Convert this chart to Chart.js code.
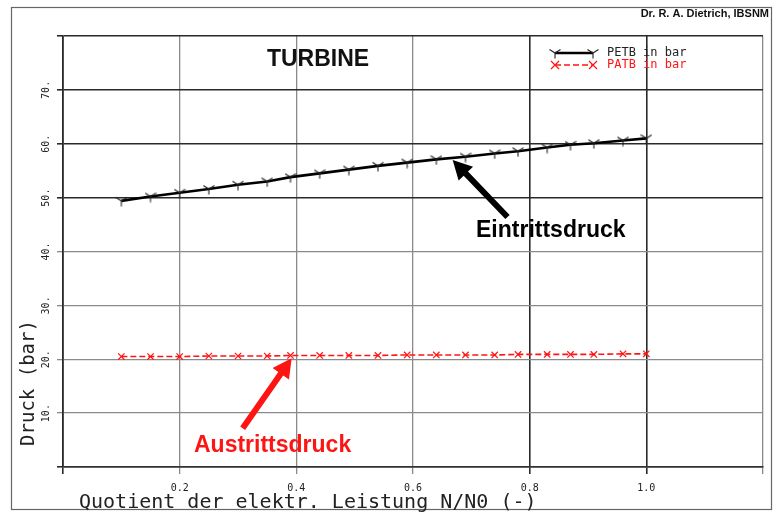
<!DOCTYPE html>
<html>
<head>
<meta charset="utf-8">
<script src="https://cdn.jsdelivr.net/npm/chart.js@4"></script>
<style>
  html, body { margin: 0; padding: 0; background: #fff; }
  #wrap { width: 782px; height: 517px; }
</style>
</head>
<body>
<div id="wrap"><canvas id="c" width="782" height="517"></canvas></div>
<script>
// Load ratio N/N0 and turbine pressures (bar)
const loadRatio = [0.10, 0.15, 0.20, 0.25, 0.30, 0.35, 0.39, 0.44, 0.49, 0.54,
                   0.59, 0.64, 0.69, 0.74, 0.78, 0.83, 0.87, 0.91, 0.96, 1.00];
const inletPressure = [49.4, 50.2, 50.9, 51.6, 52.4, 53.0, 53.8, 54.5, 55.2, 55.9,
                       56.5, 57.1, 57.6, 58.2, 58.6, 59.3, 59.8, 60.1, 60.6, 61.0];
const outletPressure = [20.5, 20.5, 20.5, 20.6, 20.6, 20.6, 20.7, 20.7, 20.7, 20.7,
                        20.8, 20.8, 20.8, 20.8, 20.9, 20.9, 20.9, 20.9, 21.0, 21.0];
const seriesLabels = ['PETB in bar', 'PATB in bar'];
const xTickLabels = [0.2, 0.4, 0.6, 0.8, 1.0];
const yTickLabels = [10, 20, 30, 40, 50, 60, 70];

// Arrow annotations in data units: [tailX, tailY, tipX, tipY]
const inletArrow = [0.762, 46.4, 0.668, 57.0];
const outletArrow = [0.308, 7.2, 0.392, 20.2];

const RED = '#ff1414';
const MONO = '"DejaVu Sans Mono", "Liberation Mono", monospace';
const SANS = '"Liberation Sans", Arial, sans-serif';

// "Y"-shaped marker for the inlet pressure curve
function makeYMarker() {
  const c = document.createElement('canvas');
  c.width = 12; c.height = 12;
  const g = c.getContext('2d');
  g.strokeStyle = '#222';
  g.lineWidth = 1.1;
  g.beginPath();
  g.moveTo(0.5, 2.5); g.lineTo(6, 6); g.lineTo(11.5, 2.5);
  g.moveTo(6, 6); g.lineTo(6, 11.5);
  g.stroke();
  return c;
}
const yMarker = makeYMarker();

function drawCrossRot(g, x, y, r, color) {
  g.save();
  g.strokeStyle = color; g.lineWidth = 1.2;
  g.beginPath();
  g.moveTo(x - r, y - r); g.lineTo(x + r, y + r);
  g.moveTo(x + r, y - r); g.lineTo(x - r, y + r);
  g.stroke();
  g.restore();
}

function drawArrow(g, x0, y0, x1, y1, color, shaft, headLen, headW) {
  const ang = Math.atan2(y1 - y0, x1 - x0);
  const len = Math.hypot(x1 - x0, y1 - y0);
  g.save();
  g.translate(x0, y0);
  g.rotate(ang);
  g.fillStyle = color;
  g.beginPath();
  g.moveTo(0, -shaft / 2);
  g.lineTo(len - headLen, -shaft / 2);
  g.lineTo(len - headLen, -headW / 2);
  g.lineTo(len, 0);
  g.lineTo(len - headLen, headW / 2);
  g.lineTo(len - headLen, shaft / 2);
  g.lineTo(0, shaft / 2);
  g.closePath();
  g.fill();
  g.restore();
}

const decorations = {
  id: 'decorations',
  afterDraw(chart) {
    const g = chart.ctx;
    const xs = chart.scales.x, ys = chart.scales.y;
    g.save();

    // outer frame
    g.strokeStyle = '#666';
    g.lineWidth = 1.2;
    g.strokeRect(11.5, 7.5, 760, 502);

    // author line
    g.fillStyle = '#111';
    g.font = 'bold 11px ' + SANS;
    g.textAlign = 'right';
    g.textBaseline = 'middle';
    g.fillText('Dr. R. A. Dietrich, IBSNM', 769, 14);

    // heading
    g.textAlign = 'center';
    g.font = 'bold 23px ' + SANS;
    g.fillText('TURBINE', 318, 60);

    // legend
    const ds = chart.data.datasets;
    const lx0 = 555, lx1 = 593, tx = 607;
    const rows = [53, 65];
    g.font = '12px ' + MONO;
    g.textAlign = 'left';
    // black entry
    g.strokeStyle = ds[0].borderColor;
    g.lineWidth = 2.4;
    g.beginPath(); g.moveTo(lx0, rows[0]); g.lineTo(lx1, rows[0]); g.stroke();
    g.drawImage(yMarker, lx0 - 6, rows[0] - 6);
    g.drawImage(yMarker, lx1 - 6, rows[0] - 6);
    g.fillStyle = '#222';
    g.fillText(ds[0].label, tx, rows[0]);
    // red entry
    g.strokeStyle = ds[1].borderColor;
    g.lineWidth = 1.6;
    g.setLineDash([6, 3]);
    g.beginPath(); g.moveTo(lx0, rows[1]); g.lineTo(lx1, rows[1]); g.stroke();
    g.setLineDash([]);
    drawCrossRot(g, lx0, rows[1], 4, ds[1].borderColor);
    drawCrossRot(g, lx1, rows[1], 4, ds[1].borderColor);
    g.fillStyle = ds[1].borderColor;
    g.fillText(ds[1].label, tx, rows[1]);

    // arrows pointing at the curves
    drawArrow(g, xs.getPixelForValue(inletArrow[0]), ys.getPixelForValue(inletArrow[1]),
              xs.getPixelForValue(inletArrow[2]), ys.getPixelForValue(inletArrow[3]),
              '#000', 6, 19, 20);
    drawArrow(g, xs.getPixelForValue(outletArrow[0]), ys.getPixelForValue(outletArrow[1]),
              xs.getPixelForValue(outletArrow[2]), ys.getPixelForValue(outletArrow[3]),
              RED, 6, 19, 20);

    // curve captions
    g.font = 'bold 23px ' + SANS;
    g.textAlign = 'left';
    g.fillStyle = '#000';
    g.fillText('Eintrittsdruck', 476, 231);
    g.fillStyle = RED;
    g.fillText('Austrittsdruck', 194, 446);

    // axis titles
    g.fillStyle = '#222';
    g.font = '20px ' + MONO;
    g.textAlign = 'left';
    g.fillText('Quotient der elektr. Leistung N/N0 (-)', 79, 503);
    g.save();
    g.translate(29, 383);
    g.rotate(-Math.PI / 2);
    g.font = '19px ' + MONO;
    g.textAlign = 'center';
    g.fillText('Druck (bar)', 0, 0);
    g.restore();

    g.restore();
  }
};

const near = (a, b) => Math.abs(a - b) < 1e-6;
const darkX = [0, 0.8, 1.0];
const darkY = [0, 50, 60, 70, 80];

new Chart(document.getElementById('c'), {
  type: 'line',
  data: {
    datasets: [
      {
        label: seriesLabels[0],
        data: loadRatio.map((x, i) => ({ x, y: inletPressure[i] })),
        borderColor: '#000',
        borderWidth: 2.6,
        pointStyle: yMarker,
        pointRadius: 6,
        tension: 0
      },
      {
        label: seriesLabels[1],
        data: loadRatio.map((x, i) => ({ x, y: outletPressure[i] })),
        borderColor: RED,
        borderWidth: 1.6,
        borderDash: [6, 3],
        pointStyle: 'crossRot',
        pointRadius: 4.5,
        pointBorderColor: RED,
        pointBorderWidth: 1.2,
        tension: 0
      }
    ]
  },
  options: {
    responsive: false,
    animation: false,
    events: [],
    layout: { padding: { left: 0, top: 36, right: 19, bottom: 0 } },
    plugins: { legend: { display: false }, tooltip: { enabled: false } },
    scales: {
      x: {
        type: 'linear',
        min: 0, max: 1.2,
        afterFit(s) { s.height = 50; },
        border: { display: true, color: '#333', width: 1.6 },
        grid: {
          color: c => darkX.some(v => near(v, c.tick.value)) ? '#2a2a2a' : '#8a8a8a',
          lineWidth: c => darkX.some(v => near(v, c.tick.value)) ? 1.6 : 1.3,
          tickLength: 7,
          drawTicks: true
        },
        ticks: {
          stepSize: 0.2,
          autoSkip: false,
          maxRotation: 0,
          padding: 8,
          color: '#222',
          font: { family: MONO, size: 10 },
          callback: v => xTickLabels.some(t => near(t, v)) ? v.toFixed(1) : ''
        }
      },
      y: {
        type: 'linear',
        min: 0, max: 80,
        afterFit(s) { s.width = 63; },
        border: { display: true, color: '#2a2a2a', width: 1.6 },
        grid: {
          color: c => darkY.some(v => near(v, c.tick.value)) ? '#2a2a2a' : '#8a8a8a',
          lineWidth: c => darkY.some(v => near(v, c.tick.value)) ? 1.6 : 1.3,
          tickLength: 6,
          drawTicks: true
        },
        ticks: {
          stepSize: 10,
          autoSkip: false,
          minRotation: 90,
          maxRotation: 90,
          crossAlign: 'center',
          padding: 2,
          color: '#222',
          font: { family: MONO, size: 10 },
          callback: v => yTickLabels.includes(v) ? v + '.' : ''
        }
      }
    }
  },
  plugins: [decorations]
});
</script>
</body>
</html>
